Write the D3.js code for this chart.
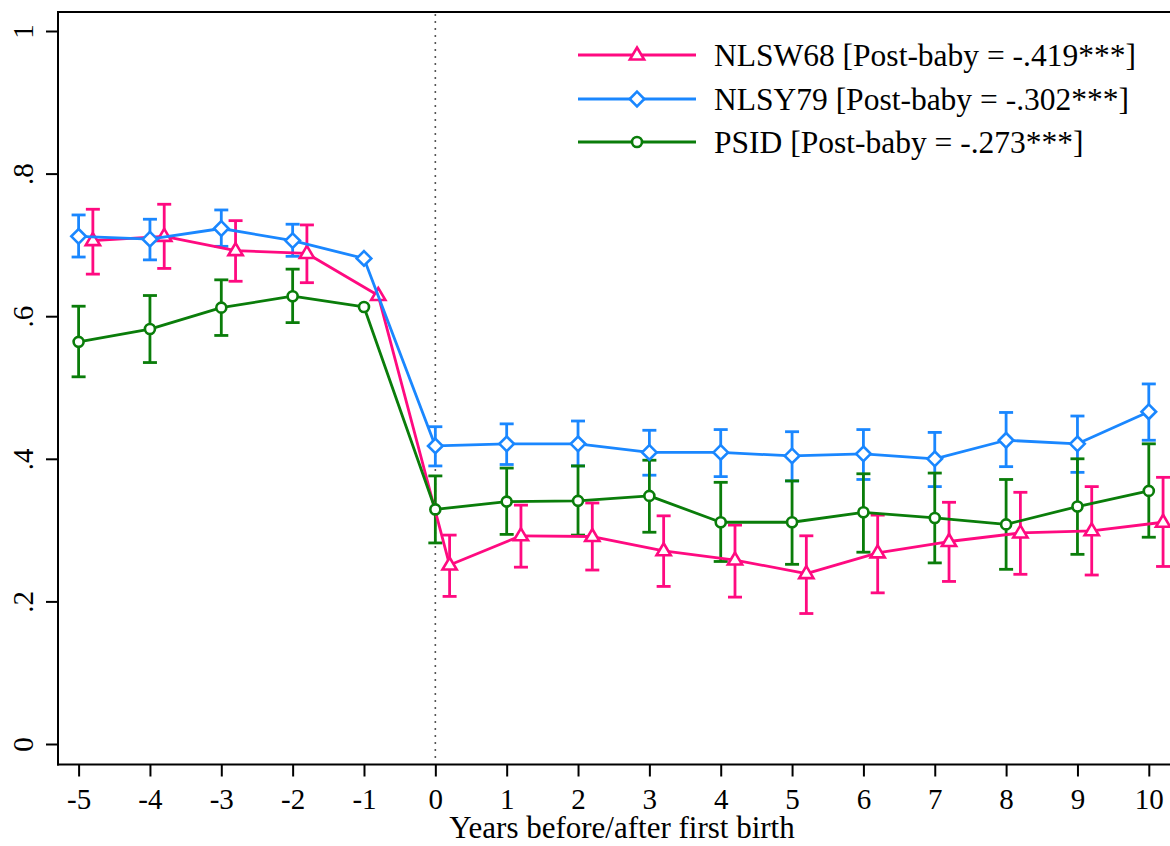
<!DOCTYPE html>
<html>
<head>
<meta charset="utf-8">
<script src="https://cdn.jsdelivr.net/npm/d3@7"></script>
<style>
  html, body { margin: 0; padding: 0; background: #fff; }
  svg { display: block; }
</style>
</head>
<body>
<svg id="chart" width="1170" height="846"></svg>
<script>
// ---------------- data ----------------
const years = [-5, -4, -3, -2, -1, 0, 1, 2, 3, 4, 5, 6, 7, 8, 9, 10];
const xTicks = [-5, -4, -3, -2, -1, 0, 1, 2, 3, 4, 5, 6, 7, 8, 9, 10];
const xTickLabels = ["-5", "-4", "-3", "-2", "-1", "0", "1", "2", "3", "4", "5", "6", "7", "8", "9", "10"];
const yTicks = [0, 0.2, 0.4, 0.6, 0.8, 1];
const yTickLabels = ["0", ".2", ".4", ".6", ".8", "1"];

const seriesNames = ["NLSW68", "NLSY79", "PSID"];
const legendLabels = [
  "NLSW68 [Post-baby = -.419***]",
  "NLSY79 [Post-baby = -.302***]",
  "PSID [Post-baby = -.273***]"
];
const xTitle = "Years before/after first birth";

// NLSW68 (point estimates, lower CI, upper CI)
const nlsw68    = [0.706, 0.712, 0.692, 0.688, 0.629, 0.251, 0.292, 0.291, 0.271, 0.258, 0.239, 0.268, 0.284, 0.296, 0.299, 0.311];
const nlsw68Lo  = [0.659, 0.667, 0.649, 0.647, null, 0.207, 0.248, 0.244, 0.221, 0.206, 0.183, 0.212, 0.228, 0.238, 0.237, 0.249];
const nlsw68Hi  = [0.750, 0.757, 0.734, 0.728, null, 0.293, 0.335, 0.338, 0.320, 0.307, 0.292, 0.321, 0.339, 0.353, 0.361, 0.374];

// NLSY79
const nlsy79    = [0.712, 0.708, 0.723, 0.706, 0.681, 0.418, 0.421, 0.421, 0.409, 0.409, 0.404, 0.407, 0.400, 0.426, 0.421, 0.466];
const nlsy79Lo  = [0.683, 0.679, 0.698, 0.684, null, 0.390, 0.392, 0.390, 0.377, 0.375, 0.369, 0.371, 0.361, 0.389, 0.381, 0.426];
const nlsy79Hi  = [0.742, 0.736, 0.749, 0.729, null, 0.445, 0.449, 0.453, 0.440, 0.441, 0.438, 0.441, 0.437, 0.465, 0.460, 0.505];

// PSID
const psid      = [0.564, 0.582, 0.612, 0.628, 0.613, 0.329, 0.340, 0.341, 0.348, 0.311, 0.311, 0.325, 0.317, 0.308, 0.333, 0.355];
const psidLo    = [0.515, 0.535, 0.573, 0.591, null, 0.282, 0.294, 0.293, 0.297, 0.256, 0.252, 0.269, 0.254, 0.245, 0.266, 0.290];
const psidHi    = [0.614, 0.629, 0.651, 0.666, null, 0.376, 0.387, 0.390, 0.398, 0.367, 0.369, 0.379, 0.380, 0.371, 0.400, 0.421];

const xOffsets = [0.2, 0, 0];   // NLSW68 plotted slightly to the right
const colors = ["#FF0A80", "#1A87FF", "#0A7D0A"];
const markers = ["triangle", "diamond", "circle"];

// ---------------- layout ----------------
const FONT = "Liberation Serif";
const svg = d3.select("#chart");
const W = 1170, H = 846;
const plotLeft = 58, plotTop = 12, plotBottom = 764.5, plotRight = 1190;

svg.append("rect").attr("width", W).attr("height", H).attr("fill", "#fff");

const x = d3.scaleLinear().domain([-5, 10]).range([78.6, 1148.8]);
const y = d3.scaleLinear().domain([0, 1]).range([744, 31]);

// frame
svg.append("line").attr("x1", plotLeft).attr("x2", plotRight).attr("y1", plotTop).attr("y2", plotTop)
  .attr("stroke", "#000").attr("stroke-width", 2);
svg.append("line").attr("x1", plotLeft).attr("x2", plotLeft).attr("y1", plotTop - 1).attr("y2", plotBottom + 1)
  .attr("stroke", "#000").attr("stroke-width", 2);

// x axis
const xAxis = d3.axisBottom(x).tickValues(xTicks).tickSize(12).tickPadding(12)
  .tickFormat((d, i) => xTickLabels[i]);
const gx = svg.append("g").attr("transform", `translate(0,${plotBottom})`).call(xAxis);
gx.select(".domain").remove();
gx.selectAll(".tick line").attr("stroke", "#000").attr("stroke-width", 2);
gx.selectAll(".tick text").attr("fill", "#000")
  .style("font-family", FONT).style("font-size", "29px");
svg.append("line").attr("x1", plotLeft - 1).attr("x2", plotRight).attr("y1", plotBottom).attr("y2", plotBottom)
  .attr("stroke", "#000").attr("stroke-width", 2);

// y axis
const yAxis = d3.axisLeft(y).tickValues(yTicks).tickSize(12).tickFormat((d, i) => yTickLabels[i]);
const gy = svg.append("g").attr("transform", `translate(${plotLeft},0)`).call(yAxis);
gy.select(".domain").remove();
gy.selectAll(".tick line").attr("stroke", "#000").attr("stroke-width", 2);
gy.selectAll(".tick text")
  .attr("fill", "#000")
  .style("font-family", FONT).style("font-size", "29px")
  .attr("text-anchor", "middle").attr("dy", null).attr("x", null)
  .attr("transform", "translate(-25,0) rotate(-90)");

// x axis title
svg.append("text").attr("x", 622).attr("y", 838).attr("text-anchor", "middle").attr("fill", "#000")
  .style("font-family", FONT).style("font-size", "31px").text(xTitle);

// vertical dotted line at 0
svg.append("line").attr("x1", x(0)).attr("x2", x(0)).attr("y1", plotTop + 2).attr("y2", plotBottom - 4)
  .attr("stroke", "#555").attr("stroke-width", 1.6).attr("stroke-dasharray", "2,5");

// ---------------- series ----------------
const all = [
  { vals: nlsw68, lo: nlsw68Lo, hi: nlsw68Hi },
  { vals: nlsy79, lo: nlsy79Lo, hi: nlsy79Hi },
  { vals: psid, lo: psidLo, hi: psidHi }
];

const capHalf = 7;
all.forEach((s, si) => {
  const g = svg.append("g");
  years.forEach((yr, i) => {
    if (s.lo[i] == null) return;
    const cx = x(yr + xOffsets[si]);
    g.append("line").attr("x1", cx).attr("x2", cx).attr("y1", y(s.lo[i])).attr("y2", y(s.hi[i]))
      .attr("stroke", colors[si]).attr("stroke-width", 2.8);
    [s.lo[i], s.hi[i]].forEach(v => {
      g.append("line").attr("x1", cx - capHalf).attr("x2", cx + capHalf).attr("y1", y(v)).attr("y2", y(v))
        .attr("stroke", colors[si]).attr("stroke-width", 2.8);
    });
  });
});

function markerPath(type, cx, cy) {
  if (type === "triangle") {
    const r = 7.5;
    return `M${cx},${cy - r} L${cx + r * 0.95},${cy + r * 0.6} L${cx - r * 0.95},${cy + r * 0.6} Z`;
  } else if (type === "diamond") {
    const r = 7.3;
    return `M${cx},${cy - r} L${cx + r},${cy} L${cx},${cy + r} L${cx - r},${cy} Z`;
  }
  return null;
}

all.forEach((s, si) => {
  const line = d3.line().x((d, i) => x(years[i] + xOffsets[si])).y(d => y(d));
  svg.append("path").datum(s.vals).attr("d", line).attr("fill", "none")
    .attr("stroke", colors[si]).attr("stroke-width", 2.8).attr("stroke-linejoin", "round");
  const g = svg.append("g");
  s.vals.forEach((v, i) => {
    const cx = x(years[i] + xOffsets[si]), cy = y(v);
    if (markers[si] === "circle") {
      g.append("circle").attr("cx", cx).attr("cy", cy).attr("r", 5)
        .attr("fill", "#fff").attr("stroke", colors[si]).attr("stroke-width", 2.6);
    } else {
      g.append("path").attr("d", markerPath(markers[si], cx, cy))
        .attr("fill", "#fff").attr("stroke", colors[si]).attr("stroke-width", 2.6);
    }
  });
});

// ---------------- legend ----------------
const legendY = [55, 99, 142];
const lg = svg.append("g");
seriesNames.forEach((n, si) => {
  const ly = legendY[si];
  lg.append("line").attr("x1", 578).attr("x2", 696).attr("y1", ly).attr("y2", ly)
    .attr("stroke", colors[si]).attr("stroke-width", 2.8);
  const mx = 637;
  if (markers[si] === "circle") {
    lg.append("circle").attr("cx", mx).attr("cy", ly).attr("r", 5)
      .attr("fill", "#fff").attr("stroke", colors[si]).attr("stroke-width", 2.6);
  } else {
    lg.append("path").attr("d", markerPath(markers[si], mx, ly))
      .attr("fill", "#fff").attr("stroke", colors[si]).attr("stroke-width", 2.6);
  }
  lg.append("text").attr("x", 714).attr("y", ly + 11).attr("fill", "#000")
    .style("font-family", FONT).style("font-size", "31.5px")
    .text(legendLabels[si]);
});
</script>
</body>
</html>
